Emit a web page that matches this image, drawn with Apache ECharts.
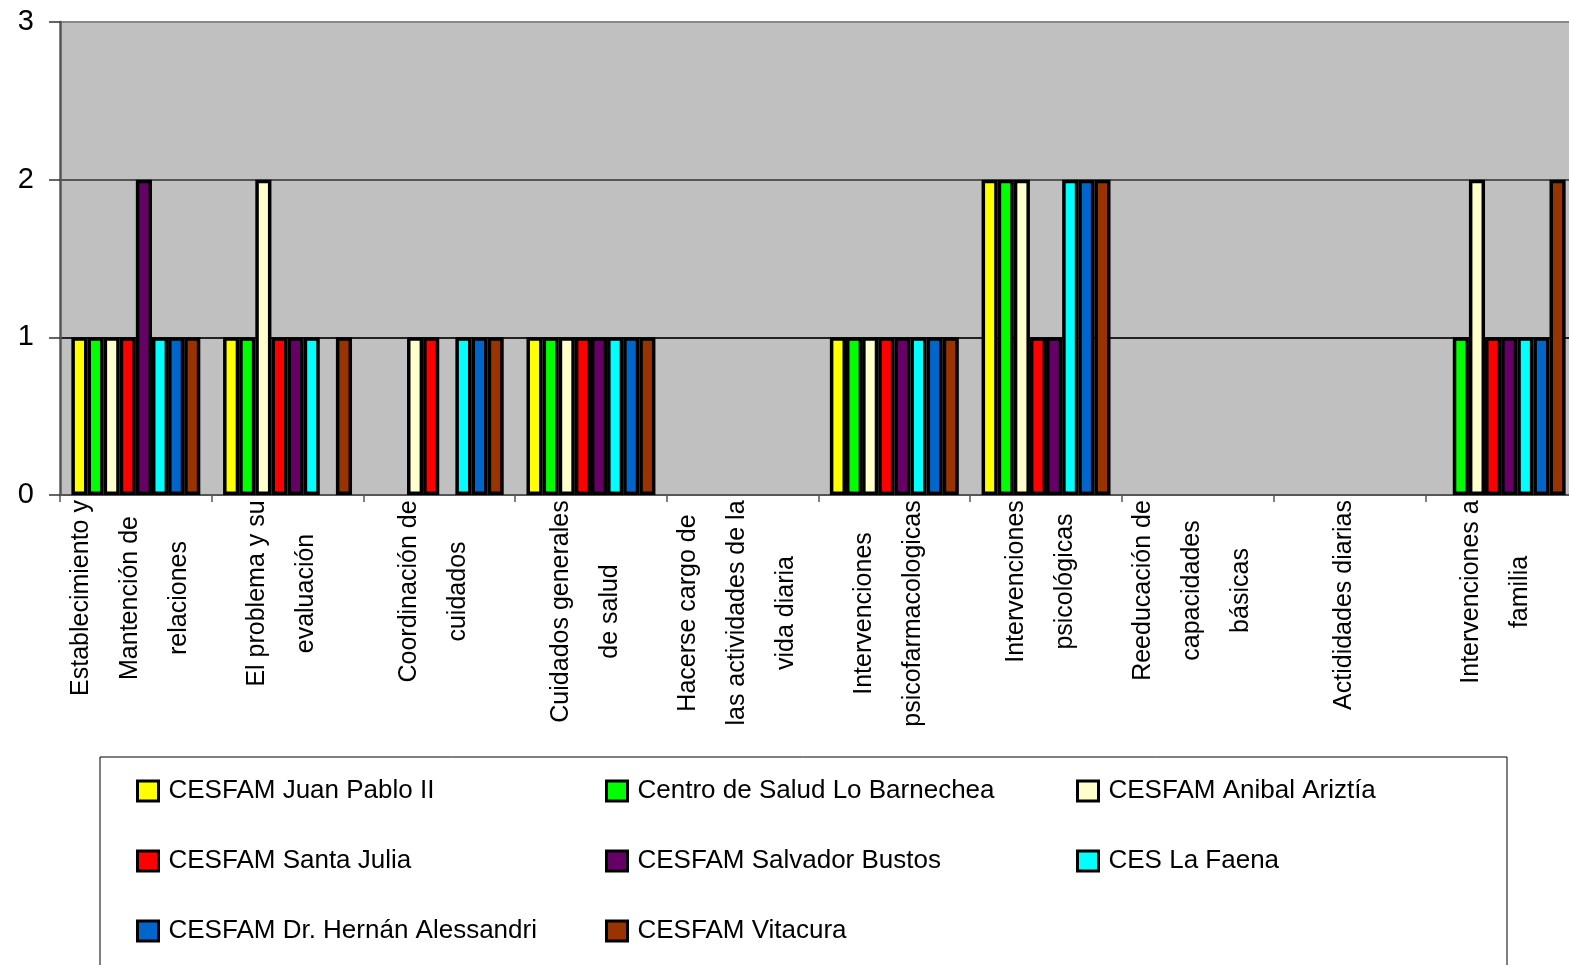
<!DOCTYPE html>
<html><head><meta charset="utf-8">
<script src="https://cdn.jsdelivr.net/npm/echarts@6/dist/echarts.min.js"></script>
<style>html,body{margin:0;padding:0;background:#fff}#c{width:1569px;height:965px}</style>
</head><body><div id="c"></div>
<script>
const categories = [
  'Establecimiento y\nMantención de\nrelaciones',
  'El problema y su\nevaluación',
  'Coordinación de\ncuidados',
  'Cuidados generales\nde salud',
  'Hacerse cargo de\nlas actividades de la\nvida diaria',
  'Intervenciones\npsicofarmacologicas',
  'Intervenciones\npsicológicas',
  'Reeducación de\ncapacidades\nbásicas',
  'Actididades diarias',
  'Intervenciones a\nfamilia'
];
const seriesNames = [
  'CESFAM Juan Pablo II',
  'Centro de Salud Lo Barnechea',
  'CESFAM Anibal Ariztía',
  'CESFAM Santa Julia',
  'CESFAM Salvador Bustos',
  'CES La Faena',
  'CESFAM Dr. Hernán Alessandri',
  'CESFAM Vitacura'
];
const juanPablo  = [1, 1, 0, 1, 0, 1, 2, 0, 0, 0];
const barnechea  = [1, 1, 0, 1, 0, 1, 2, 0, 0, 1];
const anibal     = [1, 2, 1, 1, 0, 1, 2, 0, 0, 2];
const santaJulia = [1, 1, 1, 1, 0, 1, 1, 0, 0, 1];
const salvador   = [2, 1, 0, 1, 0, 1, 1, 0, 0, 1];
const laFaena    = [1, 1, 1, 1, 0, 1, 2, 0, 0, 1];
const alessandri = [1, 0, 1, 1, 0, 1, 2, 0, 0, 1];
const vitacura   = [1, 1, 1, 1, 0, 1, 2, 0, 0, 2];
const yTicks = [0, 1, 2, 3];

const seriesValues = [juanPablo, barnechea, anibal, santaJulia, salvador, laFaena, alessandri, vitacura];
const colors = ['#FFFF00', '#00FF00', '#FFFFCC', '#FF0000', '#660066', '#00FFFF', '#0066CC', '#993300'];
const FONT = '"Liberation Sans", Arial, sans-serif';
const LABEL_SIZE = 25;

const mctx = document.createElement('canvas').getContext('2d');
mctx.font = LABEL_SIZE + 'px "Liberation Sans", Arial, sans-serif';
function maxLineW(s) { return Math.max.apply(null, s.split('\n').map(l => mctx.measureText(l).width)); }

const rich = {sp: {fontSize: 1, lineHeight: 11}};
categories.forEach((c, i) => {
  rich['l' + i] = {width: Math.ceil(maxLineW(c)) + 2, align: 'center', fontSize: LABEL_SIZE, lineHeight: 49, fontFamily: FONT, color: '#000'};
});

const chart = echarts.init(document.getElementById('c'), null, {renderer: 'canvas'});

const legendCommon = {
  orient: 'vertical', top: 776, padding: 0, itemGap: 40,
  itemWidth: 21, itemHeight: 20, icon: 'rect', selectedMode: false,
  itemStyle: {borderColor: '#000', borderWidth: 3},
  textStyle: {fontSize: 26, color: '#000', fontFamily: FONT, lineHeight: 30, padding: [0, 0, 0, 5]}
};

chart.setOption({
  animation: false,
  grid: {left: 60, top: 22, right: -8, bottom: 470, show: true, backgroundColor: '#C0C0C0', borderWidth: 0, containLabel: false, outerBoundsMode: 'none'},
  graphic: [{type: 'rect', z: 0, shape: {x: 100, y: 757, width: 1407, height: 260}, style: {fill: '#fff', stroke: '#000', lineWidth: 1}}],
  legend: [
    Object.assign({left: 136, data: [seriesNames[0], seriesNames[3], seriesNames[6]]}, legendCommon),
    Object.assign({left: 605, data: [seriesNames[1], seriesNames[4], seriesNames[7]]}, legendCommon),
    Object.assign({left: 1076, data: [seriesNames[2], seriesNames[5]]}, legendCommon)
  ],
  xAxis: {
    type: 'category',
    data: categories,
    axisLine: {show: true, lineStyle: {color: '#555', width: 2}},
    axisTick: {show: true, length: 7, lineStyle: {color: '#555', width: 1.5}},
    axisLabel: {
      interval: 0, rotate: 90, margin: 4, fontSize: LABEL_SIZE, lineHeight: 49, color: '#000', fontFamily: FONT,
      formatter: function (value) {
        const i = categories.indexOf(value);
        return value.split('\n').map(l => '{l' + i + '|' + l + '}').join('\n') + '\n{sp| }';
      },
      rich: rich
    },
    splitLine: {show: false}
  },
  yAxis: {
    type: 'value', min: yTicks[0], max: yTicks[yTicks.length - 1], interval: 1,
    axisLine: {show: true, lineStyle: {color: '#555', width: 2.5}},
    axisTick: {show: true, length: 11, lineStyle: {color: '#333', width: 1.5}},
    axisLabel: {fontSize: 29, color: '#000', margin: 26, fontFamily: FONT},
    splitLine: {show: true, lineStyle: {color: ['#555', '#222', '#555', '#888'], width: 2}}
  },
  series: seriesValues.map((vals, i) => ({
    type: 'bar', name: seriesNames[i],
    data: vals.map(v => v === 0 ? null : v),
    barGap: '0%', barCategoryGap: '15%',
    itemStyle: {color: colors[i], borderColor: '#000', borderWidth: 3.5},
    emphasis: {disabled: true}
  }))
});
</script></body></html>
